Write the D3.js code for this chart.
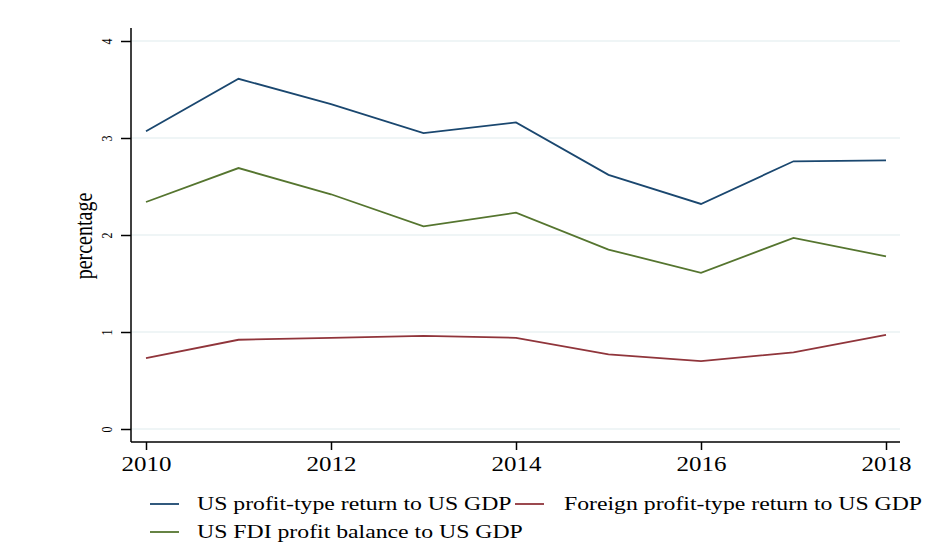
<!DOCTYPE html>
<html><head><meta charset="utf-8">
<script src="https://cdn.jsdelivr.net/npm/d3@7"></script>
<style>body{margin:0;background:#fff}svg{display:block}text{font-family:"Liberation Serif","Times New Roman",serif;fill:#000}</style>
</head><body><svg id="c" width="949" height="547"></svg>
<script>
const years = [2010,2011,2012,2013,2014,2015,2016,2017,2018];
const usProfit = [3.07,3.61,3.35,3.05,3.16,2.62,2.32,2.76,2.77];
const foreignProfit = [0.73,0.92,0.94,0.96,0.94,0.77,0.70,0.79,0.97];
const usFdi = [2.34,2.69,2.42,2.09,2.23,1.85,1.61,1.97,1.78];
const xTicks = [2010,2012,2014,2016,2018];
const yTicks = [0,1,2,3,4];
const seriesNames = ["US profit-type return to US GDP","Foreign profit-type return to US GDP","US FDI profit balance to US GDP"];
const colors = ["#1a476f","#90353b","#55752f"];
const yTitle = "percentage";

const SX = 1.25;
const svg = d3.select("#c");
const x = d3.scaleLinear().domain([2010,2018]).range([146,886]);
const y = d3.scaleLinear().domain([0,4]).range([429,41]);
const L = 131, R = 900, B = 442, T = 28;

// gridlines
svg.append("g").selectAll("line").data(yTicks).join("line")
  .attr("x1",L).attr("x2",R).attr("y1",d=>y(d)).attr("y2",d=>y(d))
  .attr("stroke","#eaf2f3").attr("stroke-width",1.5);

// y axis
const ya = svg.append("g").attr("transform",`translate(${L},0)`)
  .call(d3.axisLeft(y).tickValues(yTicks).tickSize(10).tickPadding(0).tickFormat(d3.format("d")));
ya.select(".domain").attr("d",`M0,${T}V${B}`).attr("stroke","#000").attr("stroke-width",1.5);
ya.selectAll(".tick line").attr("stroke","#000").attr("stroke-width",1.5);
ya.selectAll(".tick text").attr("transform",`translate(-19,0) scale(${SX},1) rotate(-90)`).attr("text-anchor","middle")
  .attr("x",0).attr("dy","0").attr("y",0).style("font-size","12px").style("font-family","'Liberation Serif',serif");

// x axis
const xa = svg.append("g").attr("transform",`translate(0,${B})`)
  .call(d3.axisBottom(x).tickValues(xTicks).tickSize(8).tickPadding(7).tickFormat(d3.format("d")));
xa.select(".domain").attr("d",`M${L},0H${R}`).attr("stroke","#000").attr("stroke-width",1.5);
xa.selectAll(".tick line").attr("stroke","#000").attr("stroke-width",1.5);
xa.selectAll(".tick text").attr("transform",`scale(${SX},1)`).style("font-size","20px").style("font-family","'Liberation Serif',serif");

// y title
svg.append("text").attr("transform",`translate(92,236) scale(${SX},1) rotate(-90)`).attr("text-anchor","middle")
  .style("font-size","20px").text(yTitle);

// lines
const data = [usProfit, foreignProfit, usFdi];
const line = d3.line().x((d,i)=>x(years[i])).y(d=>y(d));
svg.append("g").selectAll("path").data(data).join("path")
  .attr("d",line).attr("fill","none").attr("stroke",(d,i)=>colors[i]).attr("stroke-width",1.8);

// legend
const leg = [
  {i:0, lx:150, tx:197, y:504},
  {i:1, lx:515, tx:564, y:504},
  {i:2, lx:150, tx:197, y:532}
];
const lg = svg.append("g");
leg.forEach(o=>{
  lg.append("line").attr("x1",o.lx).attr("x2",o.lx+29).attr("y1",o.y).attr("y2",o.y)
    .attr("stroke",colors[o.i]).attr("stroke-width",1.8);
  lg.append("text").attr("transform",`translate(${o.tx},${o.y+6}) scale(${SX},1)`).style("font-size","19px").text(seriesNames[o.i]);
});
</script></body></html>
